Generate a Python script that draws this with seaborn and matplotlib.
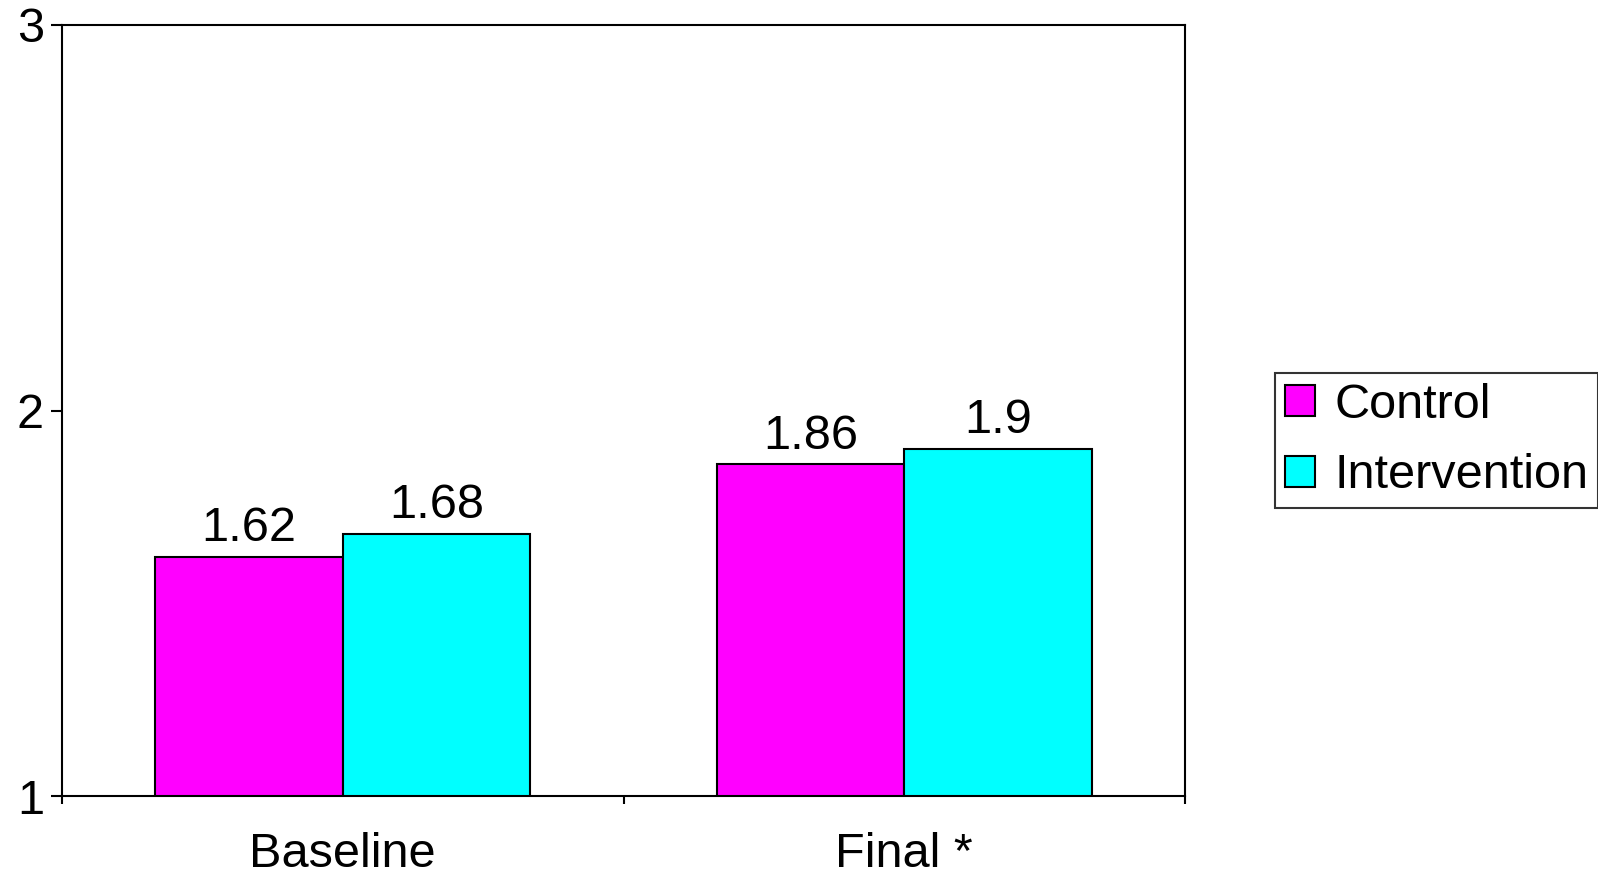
import matplotlib
matplotlib.use('Agg')
import matplotlib.pyplot as plt
import seaborn as sns
import pandas as pd

categories = ['Baseline', 'Final *']
groups = ['Control', 'Intervention']
control = [1.62, 1.86]
intervention = [1.68, 1.9]
colors = {'Control': '#ff00ff', 'Intervention': '#00ffff'}

df = pd.DataFrame({
    'period': categories * 2,
    'group': [groups[0]] * 2 + [groups[1]] * 2,
    'value': control + intervention,
})

sns.set_style('white')
plt.rcParams['font.family'] = ['Liberation Sans', 'DejaVu Sans']
plt.rcParams['text.color'] = 'black'
plt.rcParams['xtick.color'] = 'black'
plt.rcParams['ytick.color'] = 'black'
fs = 35

fig = plt.figure(figsize=(15.98, 8.75), dpi=100)
ax = fig.add_axes([62 / 1598, 79 / 875, 1123 / 1598, 771 / 875])

sns.barplot(data=df, x='period', y='value', hue='group', order=categories,
            hue_order=groups, palette=colors, width=0.667, gap=0,
            edgecolor='black', linewidth=1.5, saturation=1, ax=ax,
            legend=True)

for cont in ax.containers:
    ax.bar_label(cont, fmt='%g', padding=4, fontsize=fs, color='black')

ax.set_ylim(1, 3)
ax.set_yticks([1, 2, 3])
ax.set_xlim(-0.5, 1.5)
ax.set_xlabel('')
ax.set_ylabel('')

for s in ax.spines.values():
    s.set_visible(True)
    s.set_color('black')
    s.set_linewidth(1.5)

ax.tick_params(axis='y', which='major', direction='out', length=8, width=1.5,
               color='black', labelcolor='black', labelsize=fs, pad=5, left=True)
ax.tick_params(axis='x', which='major', length=0, labelsize=fs,
               labelcolor='black', pad=26)
ax.set_xticks([-0.5, 0.5, 1.5], minor=True)
ax.tick_params(axis='x', which='minor', direction='out', length=6, width=1.5,
               color='black', bottom=True)

# legend outside the axes, clipped by the right figure edge like the original
handles, labels = ax.get_legend_handles_labels()
ax.get_legend().remove()
leg = fig.legend(handles, labels, loc='upper left',
                 bbox_to_anchor=(1275 / 1598, 1 - 373 / 875),
                 fontsize=fs, frameon=True, fancybox=False, shadow=False,
                 handlelength=0.62, handleheight=0.62, handletextpad=0.4,
                 borderpad=0.2, labelspacing=0.53, borderaxespad=0)
leg.get_frame().set_edgecolor('black')
leg.get_frame().set_linewidth(1.5)
for t in leg.get_texts():
    t.set_color('black')

fig.savefig('out.png', dpi=100)
